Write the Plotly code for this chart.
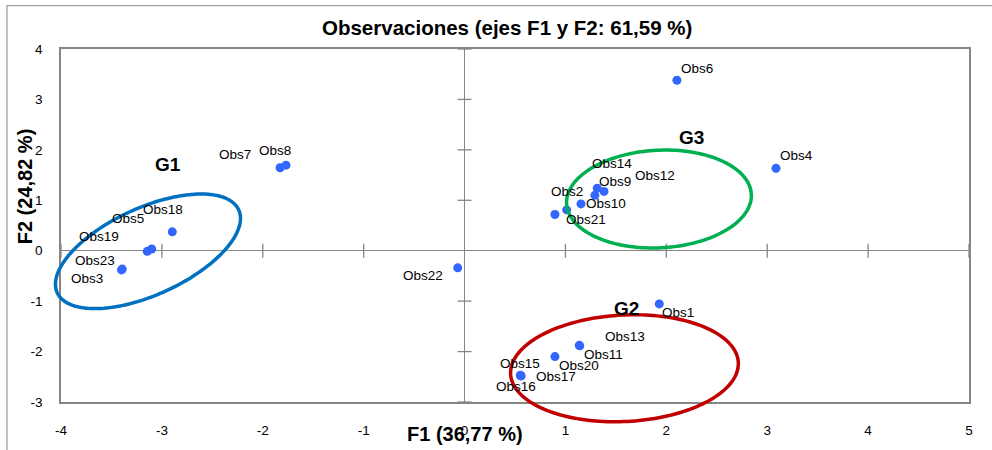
import numpy as np
import plotly.graph_objects as go

# ---------------- data ----------------
obs_names = ["Obs1", "Obs2", "Obs3", "Obs4", "Obs5", "Obs6", "Obs7", "Obs8",
             "Obs9", "Obs10", "Obs11", "Obs12", "Obs13", "Obs14", "Obs15",
             "Obs16", "Obs17", "Obs18", "Obs19", "Obs20", "Obs21", "Obs22", "Obs23"]
f1_values = [1.930, 1.012, -3.400, 3.087, -3.101, 2.105, -1.829, -1.770,
             1.382, 1.154, 1.142, 1.292, 1.137, 1.315, 0.556,
             0.552, 0.561, -2.897, -3.145, 0.896, 0.896, -0.068, -3.393]
f2_values = [-1.055, 0.810, -0.380, 1.634, 0.033, 3.380, 1.646, 1.697,
             1.176, 0.928, -1.886, 1.098, -1.877, 1.241, -2.477,
             -2.470, -2.483, 0.374, -0.012, -2.100, 0.718, -0.339, -0.364]

x_ticks = [-4, -3, -2, -1, 0, 1, 2, 3, 4, 5]
y_ticks = [-3, -2, -1, 0, 1, 2, 3, 4]

group_names = ["G1", "G2", "G3"]
group_colors = ["#0070C0", "#C00000", "#00B050"]

title_text = "Observaciones (ejes F1 y F2: 61,59 %)"
x_title = "F1 (36,77 %)"
y_title = "F2 (24,82 %)"

# ---------------- styling / placement ----------------
# label offsets in pixels (dx right, dy down) for each observation label
label_dx = [19, 0, -35, 20, -24, 20, -45, -11, 11, 25, 24, 60, 46, 15, -1,
            -4, 35, -9, -48, 24, 31, -35, -27]
label_dy = [9, -18, 9, -13, -31, -12, -13, -15, -10, 0, 9, -20, -9, -25, -12,
            11, 1, -22, -15, 9, 5, 8, -9]

# group ellipses: centre (data units), semi-axes (px), rotation (deg), label pos (data)
ell_cx = [-3.138, 1.585, 1.927]
ell_cy = [-0.012, -2.331, 1.025]
ell_a = [100, 114, 92.5]
ell_b = [44, 54, 49.5]
ell_ang = [25, 3, 3]
glabel_x = [-2.937, 1.607, 2.251]
glabel_y = [1.710, -1.141, 2.252]

W, H = 992, 450
ML, MR, MT, MB = 61, 23, 49, 43
PW, PH = W - ML - MR, H - MT - MB
XR = [-4, 5]
YR = [-3, 4]
GREY = "#868686"
PT_COLOR = "#3366FF"
FONT = "Liberation Sans, Arial, sans-serif"

fig = go.Figure()

fig.add_trace(go.Scatter(
    x=f1_values, y=f2_values, mode="markers",
    marker=dict(color=PT_COLOR, size=9),
    hovertext=obs_names, hoverinfo="text", showlegend=False, cliponaxis=False))

# small crossing tick marks on the zero axes
fig.add_trace(go.Scatter(
    x=[t for t in x_ticks if t != 0], y=[0] * (len(x_ticks) - 1), mode="markers",
    marker=dict(symbol="line-ns", size=10, line=dict(color=GREY, width=1.3)),
    hoverinfo="skip", showlegend=False, cliponaxis=False))
fig.add_trace(go.Scatter(
    x=[0] * (len(y_ticks) - 1), y=[t for t in y_ticks if t != 0], mode="markers",
    marker=dict(symbol="line-ew", size=10, line=dict(color=GREY, width=1.3)),
    hoverinfo="skip", showlegend=False, cliponaxis=False))

annotations = []
for name, x, y, dx, dy in zip(obs_names, f1_values, f2_values, label_dx, label_dy):
    annotations.append(dict(x=x, y=y, text=name, showarrow=False,
                            xshift=dx, yshift=-dy,
                            font=dict(family=FONT, size=13.5, color="#000000")))

for g, gx, gy in zip(group_names, glabel_x, glabel_y):
    annotations.append(dict(x=gx, y=gy, text="<b>" + g + "</b>", showarrow=False,
                            font=dict(family=FONT, size=19, color="#000000")))

annotations.append(dict(x=0.5, y=1, xref="paper", yref="paper", yanchor="middle",
                        text="<b>" + title_text + "</b>", showarrow=False,
                        xshift=(507 - (ML + PW / 2)), yshift=(MT - 27),
                        font=dict(family=FONT, size=20.5, color="#000000")))
annotations.append(dict(x=0, y=-3, xref="x", yref="y", yanchor="middle",
                        text="<b>" + x_title + "</b>", showarrow=False,
                        yshift=-32,
                        font=dict(family=FONT, size=20, color="#000000")))
annotations.append(dict(x=0, y=1, xref="paper", yref="y", xanchor="center",
                        yanchor="middle", text="<b>" + y_title + "</b>",
                        showarrow=False, textangle=-90, xshift=-(ML - 25), yshift=14,
                        font=dict(family=FONT, size=20, color="#000000")))

shapes = []
t = np.linspace(0, 2 * np.pi, 181)
for cx, cy, a, b, ang, col in zip(ell_cx, ell_cy, ell_a, ell_b, ell_ang, group_colors):
    th = np.deg2rad(ang)
    dxp = a * np.cos(t) * np.cos(th) - b * np.sin(t) * np.sin(th)
    dyp = a * np.cos(t) * np.sin(th) + b * np.sin(t) * np.cos(th)
    px = (cx - XR[0]) / (XR[1] - XR[0]) + dxp / PW
    py = (cy - YR[0]) / (YR[1] - YR[0]) + dyp / PH
    path = "M " + " L ".join(f"{u:.5f},{v:.5f}" for u, v in zip(px, py)) + " Z"
    shapes.append(dict(type="path", xref="paper", yref="paper", path=path,
                       line=dict(color=col, width=3.5), layer="above"))

# outer chart frame
shapes.append(dict(type="rect", xref="paper", yref="paper",
                   x0=(7 - ML) / PW, x1=(W + 20 - ML) / PW,
                   y0=-(H + 20 - MT - PH) / PH, y1=(H - 5 - MB) / PH,
                   line=dict(color="#A0A0A0", width=1.3), layer="below"))

fig.update_layout(
    width=W, height=H,
    margin=dict(l=ML, r=MR, t=MT, b=MB),
    paper_bgcolor="white", plot_bgcolor="white",
    showlegend=False,
    annotations=annotations, shapes=shapes,
    xaxis=dict(range=XR, tickvals=x_ticks, ticktext=[str(v) for v in x_ticks],
               showgrid=False, zeroline=True, zerolinecolor=GREY, zerolinewidth=1.3,
               showline=True, mirror=True, linecolor=GREY, linewidth=1.5,
               ticks="", ticklabelstandoff=15,
               tickfont=dict(family=FONT, size=13.5, color="#000000"), fixedrange=True),
    yaxis=dict(range=YR, tickvals=y_ticks, ticktext=[str(v) for v in y_ticks],
               showgrid=False, zeroline=True, zerolinecolor=GREY, zerolinewidth=1.3,
               showline=True, mirror=True, linecolor=GREY, linewidth=1.5,
               ticks="", ticklabelstandoff=14,
               tickfont=dict(family=FONT, size=13.5, color="#000000"), fixedrange=True),
)

fig.write_html("out.html", config={"displayModeBar": False},
               post_script="document.body.style.margin='0';"
                           "document.body.style.overflow='hidden';")
